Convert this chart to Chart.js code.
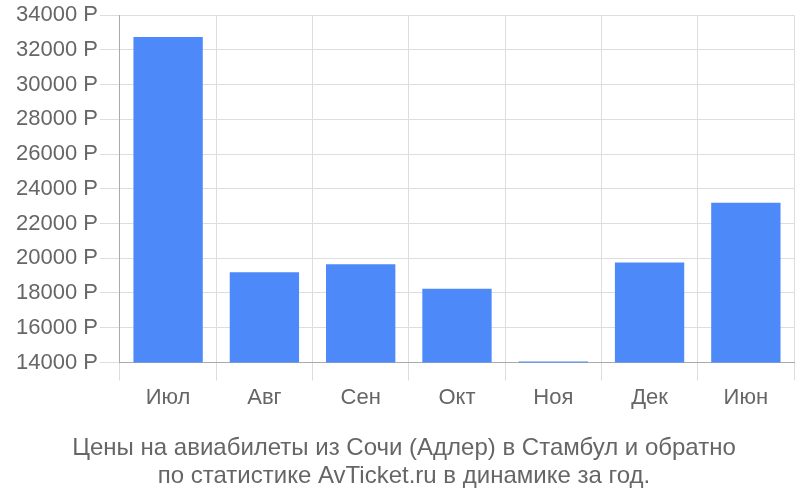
<!DOCTYPE html>
<html>
<head>
<meta charset="utf-8">
<script src="https://cdn.jsdelivr.net/npm/chart.js@4"></script>
<style>
  body { margin: 0; background: #fff; }
  #wrap { width: 800px; height: 500px; }
</style>
</head>
<body>
<div id="wrap"><canvas id="graphId"></canvas></div>
<script>
// months and prices
var months = ['Июл', 'Авг', 'Сен', 'Окт', 'Ноя', 'Дек', 'Июн'];
var prices = [32750, 19200, 19650, 18250, 14060, 19750, 23200];
var titleLines = ['Цены на авиабилеты из Сочи (Адлер) в Стамбул и обратно',
                  'по статистике AvTicket.ru в динамике за год.'];

Chart.defaults.font.family = '"Liberation Sans", Arial, sans-serif';
Chart.defaults.color = '#666';

const ctx = document.getElementById('graphId').getContext('2d');
const myChart = new Chart(ctx, {
  type: 'bar',
  data: {
    labels: months,
    datasets: [{
      data: prices,
      backgroundColor: '#4d89f9',
      borderWidth: 0
    }]
  },
  options: {
    responsive: true,
    maintainAspectRatio: false,
    animation: false,
    layout: { padding: { top: 4, right: 6, left: 14, bottom: 10 } },
    plugins: {
      legend: { display: false },
      tooltip: { enabled: false },
      title: {
        display: true,
        position: 'bottom',
        text: titleLines,
        color: '#666',
        font: { size: 24, weight: 'normal', lineHeight: 1.17 },
        padding: { top: 19, bottom: 0 }
      }
    },
    scales: {
      x: {
        grid: { color: '#ddd', tickLength: 18, offset: true },
        border: { color: '#aaa' },
        ticks: { font: { size: 22 }, color: '#666', padding: 4 }
      },
      y: {
        min: 14000,
        max: 34000,
        grid: { color: '#ddd', tickLength: 20 },
        border: { color: '#aaa' },
        ticks: {
          stepSize: 2000,
          font: { size: 22 },
          color: '#666',
          padding: 2,
          callback: function(v) { return v + ' Р'; }
        }
      }
    }
  }
});
</script>
</body>
</html>
